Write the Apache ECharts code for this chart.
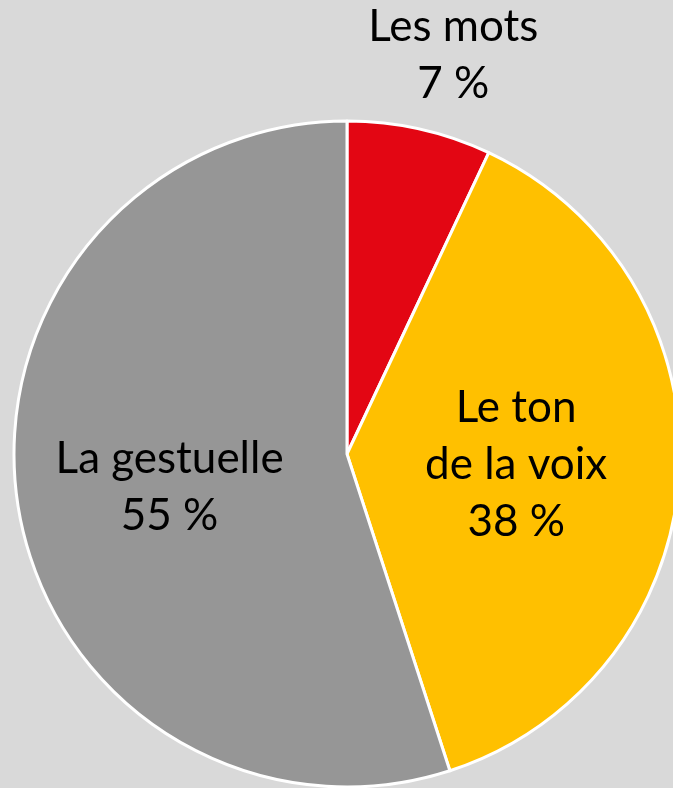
<!DOCTYPE html>
<html>
<head>
<meta charset="utf-8">
<script src="https://cdn.jsdelivr.net/npm/echarts@6/dist/echarts.min.js"></script>
<style>
  html, body { margin: 0; padding: 0; background: #d9d9d9; }
  #main { width: 673px; height: 788px; }
</style>
</head>
<body>
<div id="main"></div>
<script>
// données du graphique
var categories = ['Les mots', 'Le ton\nde la voix', 'La gestuelle'];
var values = [7, 38, 55];
var colors = ['#e30613', '#ffc000', '#969696'];

var myChart = echarts.init(document.getElementById('main'));

var data = [];
for (var i = 0; i < categories.length; i++) {
	data.push({
		name: categories[i],
		value: values[i],
		itemStyle: { color: colors[i] },
		label: { position: i == 0 ? 'outside' : 'inside' }
	});
}

var option = {
	backgroundColor: '#d9d9d9',
	series: [{
		type: 'pie',
		center: [347, 454],
		radius: 333,
		startAngle: 90,
		clockwise: true,
		avoidLabelOverlap: false,
		animation: false,
		itemStyle: { borderColor: '#ffffff', borderWidth: 3 },
		label: {
			show: true,
			formatter: '{b}\n{c} %',
			color: '#000',
			fontFamily: 'Lato',
			fontSize: 44,
			lineHeight: 57,
			align: 'center',
			distanceToLabelLine: 5
		},
		labelLine: { show: false, length: 76, length2: 12 },
		labelLayout: function (params) {
			// petit décalage pour la gestuelle
			if (params.dataIndex == 2) {
				return { align: 'center', dx: -10, dy: 7 };
			}
			return { align: 'center' };
		},
		data: data
	}]
};
myChart.setOption(option);
</script>
</body>
</html>
